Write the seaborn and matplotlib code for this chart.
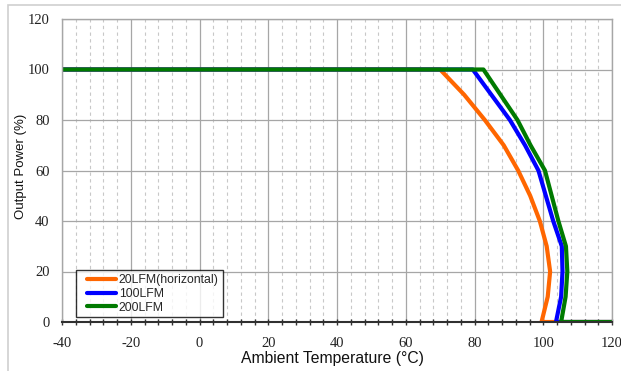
import numpy as np
import pandas as pd
import seaborn as sns
import matplotlib
matplotlib.use("Agg")
import matplotlib.pyplot as plt
from matplotlib.ticker import MultipleLocator
from matplotlib.patches import Rectangle
from matplotlib.legend_handler import HandlerLine2D
from matplotlib.lines import Line2D

# ---- data ----
series_names = ["20LFM(horizontal)", "100LFM", "200LFM"]
temp_20lfm = [-40, 70, 77, 83, 88.5, 92.7, 96.2, 99.0, 101.0, 102.0, 101.3, 99.5, 120]
power_20lfm = [100, 100, 90, 80, 70, 60, 50, 40, 30, 20, 10, 0, 0]
temp_100lfm = [-40, 79.5, 90.3, 94.7, 98.6, 102.9, 105.4, 105.6, 105.2, 103.7, 120]
power_100lfm = [100, 100, 80, 70, 60, 40, 30, 20, 10, 0, 0]
temp_200lfm = [-40, 82.6, 92.5, 96.3, 100.5, 104.4, 106.6, 107.0, 106.5, 105.2, 120]
power_200lfm = [100, 100, 80, 70, 60, 40, 30, 20, 10, 0, 0]
colors = ["#FF6600", "#0000FF", "#007A00"]
x_ticks = [-40, -20, 0, 20, 40, 60, 80, 100, 120]
y_ticks = [0, 20, 40, 60, 80, 100, 120]

frames = []
for name, t, p in zip(series_names,
                      [temp_20lfm, temp_100lfm, temp_200lfm],
                      [power_20lfm, power_100lfm, power_200lfm]):
    frames.append(pd.DataFrame({"temp": t, "power": p, "series": name}))
df = pd.concat(frames, ignore_index=True)

sns.set_theme(style="white")
plt.rcParams["font.family"] = ["Liberation Sans", "DejaVu Sans"]
plt.rcParams["axes.unicode_minus"] = False

fig = plt.figure(figsize=(6.21, 3.71), dpi=100)
ax = fig.add_axes([62 / 621, 49 / 371, 550 / 621, 303 / 371])

# figure border
fig.patches.append(Rectangle((8 / 621, -0.05), 1.0, (371 - 5) / 371 + 0.05,
                             transform=fig.transFigure, fill=False,
                             edgecolor="#CFCFCF", linewidth=1.2, zorder=0))

sns.lineplot(data=df, x="temp", y="power", hue="series",
             estimator=None, sort=False, palette=colors, hue_order=series_names,
             linewidth=3.0, ax=ax, legend=False)

ax.set_xlim(-40, 120)
ax.set_ylim(0, 120)
ax.set_xticks(x_ticks)
ax.set_yticks(y_ticks)
ax.xaxis.set_minor_locator(MultipleLocator(4))
ax.grid(which="major", axis="both", color="#A6A6A6", linewidth=0.9, linestyle="-")
ax.grid(which="minor", axis="x", color="#C8C8C8", linewidth=0.8, linestyle=(0, (3, 3)))
ax.set_axisbelow(True)

for s in ["top", "right", "left"]:
    ax.spines[s].set_color("#A6A6A6")
    ax.spines[s].set_linewidth(1.0)
ax.spines["bottom"].set_color("#303030")
ax.spines["bottom"].set_linewidth(1.5)

ax.tick_params(axis="x", which="both", direction="inout", length=4, width=1,
               color="#303030", bottom=True, pad=9)
ax.tick_params(axis="y", which="both", left=False, length=0, pad=9)
for lab in ax.get_xticklabels() + ax.get_yticklabels():
    lab.set_family(["Liberation Serif", "DejaVu Serif"])
    lab.set_fontsize(10.5)
    lab.set_color("#222222")

ax.set_xlabel("Ambient Temperature (°C)", fontsize=11.3, color="#111111", labelpad=0.5)
ax.set_ylabel("Output Power (%)", fontsize=9.5, color="#111111")
ax.yaxis.set_label_coords(-0.064, 0.515)
ax.xaxis.label.set_x(0.491)


class ShiftedLineHandler(HandlerLine2D):
    def create_artists(self, legend, orig_handle, xdescent, ydescent, width,
                       height, fontsize, trans):
        arts = super().create_artists(legend, orig_handle, xdescent, ydescent,
                                      width, height, fontsize, trans)
        for a in arts:
            if isinstance(a, Line2D):
                xd = np.asarray(a.get_xdata(), dtype=float)
                if len(xd) >= 2:
                    a.set_xdata(np.linspace(xd[0] + 5, xd[-1], len(xd)))
        return arts


handles = [Line2D([], [], color=c, linewidth=3) for c in colors]
leg = ax.legend(handles, series_names, loc="lower left",
                bbox_to_anchor=(0.025, 0.015), frameon=True, fancybox=False,
                edgecolor="#000000", fontsize=8.8, handlelength=2.95,
                handletextpad=0.25, borderpad=0.32, labelspacing=0.14,
                borderaxespad=0,
                handler_map={Line2D: ShiftedLineHandler()})
leg.get_frame().set_linewidth(1.0)

fig.savefig("out.png", dpi=100)
